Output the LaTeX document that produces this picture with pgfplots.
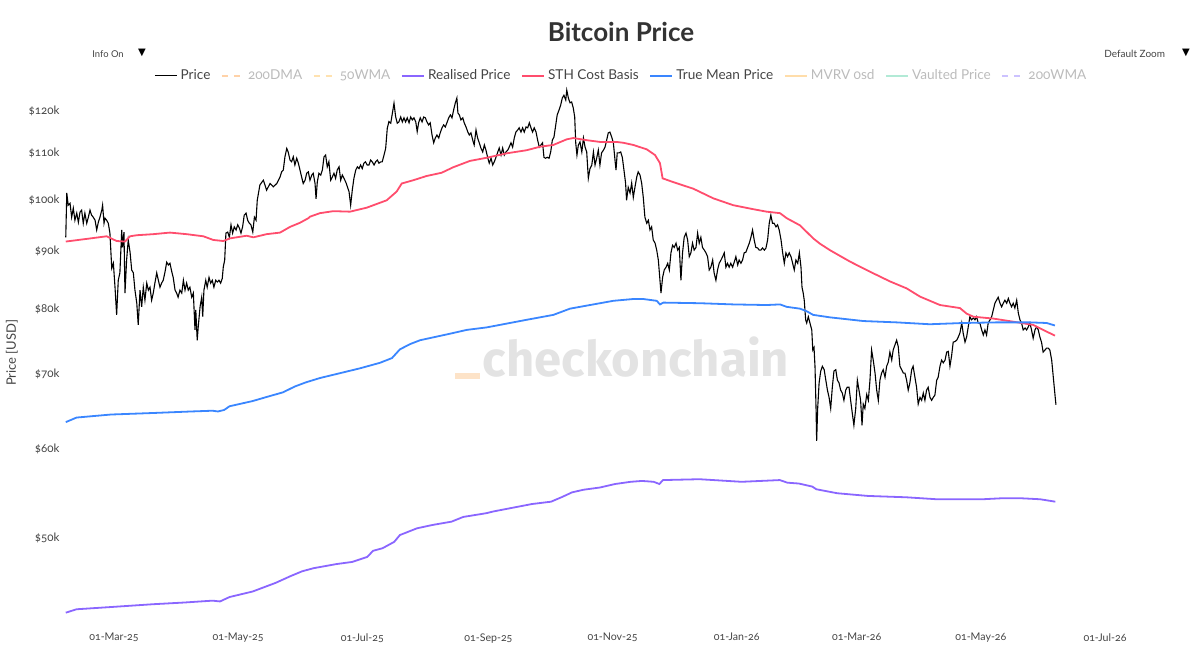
\documentclass[border=0pt]{standalone}
\usepackage{fontspec}
\setmainfont{Lato}[Numbers=OldStyle]
\newfontfamily\symfont{DejaVu Sans}
\newfontfamily\wmfont{Fira Sans}
\usepackage{pgfplots}
\pgfplotsset{compat=1.18}
\usepackage{pgfplotstable}

\definecolor{rpcol}{HTML}{8A66FF}
\definecolor{sthcol}{HTML}{FF4D6D}
\definecolor{tmpcol}{HTML}{3A86FF}
\definecolor{txtcol}{HTML}{444444}
\definecolor{titlecol}{HTML}{333333}
\definecolor{hidtxt}{HTML}{BBBBBB}
\definecolor{dma200}{HTML}{FFD2A8}
\definecolor{wma50}{HTML}{FFE2B0}
\definecolor{mvrv}{HTML}{FFDDAA}
\definecolor{vault}{HTML}{B2EAD6}
\definecolor{wma200}{HTML}{CCC2FF}
\definecolor{wmgray}{HTML}{E3E3E3}
\definecolor{wmorange}{HTML}{FDE3C8}

% x = days since 2025-01-01, y = price in thousand USD
\pgfplotstableread{
d v
35.3 92.6
35.8 101.4
36.5 98.9
37.4 99.3
38.2 96.5
39.0 98.3
39.8 95.9
40.7 97.3
41.5 95.5
42.3 97.5
43.1 97.9
43.9 95.3
44.7 97.3
45.6 95.3
46.4 96.5
47.2 97.9
48.0 96.9
48.8 96.5
49.7 95.9
50.5 94.0
51.3 95.5
52.1 96.5
53.0 97.9
53.4 98.9
54.1 95.3
54.6 96.3
55.4 95.9
56.2 95.3
57.0 93.4
57.9 86.9
58.7 87.8
59.5 83.6
60.3 79.0
61.1 84.8
61.9 86.1
62.8 94.0
63.2 90.7
63.9 93.6
64.4 82.6
65.2 88.4
66.0 92.1
66.9 89.8
67.7 86.6
68.5 86.1
69.3 83.1
70.2 80.9
70.9 77.4
71.8 83.1
72.6 80.3
73.4 83.6
74.2 81.4
75.1 84.3
75.9 83.1
76.7 83.6
77.5 81.4
78.3 82.6
79.1 84.3
80.0 86.1
80.8 84.8
81.6 83.6
82.4 84.3
83.2 84.8
84.1 86.3
84.9 88.0
85.7 87.5
86.5 87.8
87.4 86.3
88.1 85.3
89.0 83.1
89.8 82.6
90.5 81.9
91.4 83.1
92.3 82.6
93.1 84.8
93.9 83.1
94.7 84.3
95.5 83.1
96.3 83.6
97.2 81.9
98.0 82.6
98.8 76.6
99.2 79.8
99.9 75.0
100.4 77.1
101.3 80.3
102.1 81.9
102.6 78.7
103.2 83.1
104.1 84.8
104.8 83.6
105.7 85.3
106.5 84.3
107.3 84.8
108.1 83.6
109.0 84.8
109.8 84.5
110.6 84.8
111.4 84.3
112.2 85.1
112.7 87.1
113.4 88.4
114.0 93.4
114.9 93.6
115.7 92.6
116.5 95.0
117.3 93.4
118.1 94.6
119.0 94.0
119.8 95.0
120.6 94.4
121.4 93.4
122.2 94.6
123.0 96.9
123.9 97.3
124.7 95.9
125.5 95.3
126.3 95.0
127.2 93.6
128.0 96.5
128.8 95.9
129.4 99.9
130.7 103.1
132.4 104.1
134.0 102.0
135.7 103.4
137.3 102.7
139.0 103.4
140.6 104.8
141.4 105.9
142.2 106.3
143.0 109.2
143.9 111.1
144.6 110.3
145.5 108.5
146.3 108.1
147.1 109.2
147.9 107.4
148.8 108.9
149.6 107.8
150.4 106.3
151.2 104.8
152.0 103.4
152.9 104.1
153.7 105.6
154.5 105.9
155.3 104.1
156.2 105.2
156.9 105.6
157.8 103.4
158.3 100.2
158.9 103.7
159.7 105.6
160.6 105.2
161.4 106.3
162.2 109.2
163.0 109.6
163.8 107.0
164.6 108.1
165.5 104.1
166.3 104.8
167.1 105.6
167.9 104.5
168.7 106.3
169.6 107.0
170.4 104.1
171.2 105.2
172.0 104.5
172.9 103.7
173.7 102.7
174.5 101.7
175.3 98.9
176.1 102.0
176.9 104.5
177.8 106.3
178.6 107.0
179.4 106.6
180.2 107.4
181.0 106.6
181.8 107.8
182.6 108.1
183.4 107.4
184.3 107.4
185.1 108.5
185.9 108.1
186.8 107.4
187.6 108.1
188.4 108.5
189.2 107.8
190.1 108.1
190.8 108.1
191.7 109.6
192.5 111.1
193.3 115.8
194.1 117.4
195.0 117.0
195.8 119.4
196.6 121.9
197.4 118.6
198.2 117.0
199.0 117.3
199.9 118.5
200.7 117.3
201.5 118.3
202.3 117.3
203.1 118.3
204.0 117.1
204.8 118.5
205.6 117.8
206.4 118.3
207.3 117.3
208.0 115.0
208.7 117.1
209.5 118.3
210.4 117.3
211.2 118.5
212.0 118.3
212.8 117.3
213.6 116.6
214.4 117.1
215.3 114.2
216.1 112.4
216.9 113.5
217.7 114.2
218.6 113.5
219.3 114.7
220.2 115.9
221.0 116.6
221.8 116.1
222.6 117.1
223.5 118.3
224.3 119.0
225.1 118.3
225.9 120.2
226.7 121.9
227.5 123.2
228.0 119.5
228.7 119.0
229.5 117.8
230.4 118.3
231.1 117.1
232.0 116.1
232.8 115.0
233.6 114.2
234.4 114.7
235.3 113.0
236.0 111.9
236.9 115.4
237.7 113.5
238.5 112.4
239.3 111.2
240.2 110.3
241.0 111.9
241.8 110.7
242.6 109.1
243.4 107.8
244.3 108.9
245.1 107.4
245.9 108.1
246.7 109.1
247.6 110.3
248.3 111.2
249.2 109.6
250.0 111.2
250.8 109.6
251.6 110.3
252.5 110.7
253.2 111.4
254.1 112.4
254.9 111.4
255.7 113.5
256.5 114.9
257.4 115.4
258.1 115.9
259.0 114.9
259.8 115.9
260.6 114.9
261.5 116.1
262.3 115.9
263.1 117.1
263.9 115.9
264.7 114.9
265.5 115.9
266.4 114.9
267.2 113.0
268.0 111.4
268.8 111.9
269.6 112.4
270.3 109.1
271.1 108.9
271.9 109.1
272.8 108.9
273.6 110.3
274.4 113.0
275.2 113.7
276.1 116.6
276.8 119.0
277.7 120.2
278.5 121.4
279.3 123.2
280.1 123.9
281.0 122.7
281.5 125.2
282.3 123.2
283.1 122.0
283.9 122.2
284.7 120.7
285.4 118.5
285.9 112.4
286.5 109.6
287.2 111.9
288.0 112.6
288.9 110.3
289.7 113.5
290.5 111.4
291.3 110.3
292.1 104.5
292.9 106.6
293.8 107.4
294.6 110.3
295.4 107.4
296.2 108.9
297.0 110.7
297.8 107.4
298.6 110.1
299.5 110.7
300.3 111.4
301.1 113.0
301.9 114.7
302.7 114.9
303.6 113.7
304.4 112.4
305.2 108.5
305.7 106.3
306.3 110.1
307.2 110.1
308.0 110.3
308.8 109.1
309.6 106.3
310.4 103.5
310.9 99.9
311.7 102.6
312.6 101.4
313.4 103.5
314.2 100.5
315.0 102.6
315.9 104.8
316.6 105.9
317.5 105.2
318.3 103.5
319.1 100.5
319.9 96.5
320.8 95.3
321.6 95.9
322.4 94.0
323.2 94.6
324.0 92.1
324.9 91.5
325.7 90.2
326.5 88.4
327.3 84.8
327.8 82.6
328.6 85.3
329.4 86.6
330.3 87.1
331.1 87.8
331.9 86.6
332.7 89.7
333.5 91.1
334.3 90.7
335.2 91.5
336.0 90.2
336.8 90.7
337.6 84.8
338.4 89.7
339.2 92.6
340.1 93.4
340.9 92.1
341.7 89.0
342.5 89.7
343.3 91.5
344.1 90.2
345.0 90.7
345.8 93.4
346.6 91.5
347.4 92.6
348.2 90.7
349.1 90.2
349.9 89.7
350.7 89.0
351.5 86.6
352.3 87.1
353.2 88.4
353.9 86.1
354.8 84.8
355.6 86.6
356.4 87.8
357.3 88.4
358.1 89.0
358.9 89.7
359.7 87.1
360.5 87.8
361.3 87.1
362.1 87.8
363.0 87.1
363.8 88.0
364.6 89.0
365.5 87.5
366.2 88.4
367.1 87.8
367.9 88.4
368.7 89.7
369.5 89.8
370.4 90.7
371.2 91.5
372.0 92.6
372.8 94.0
373.6 92.1
374.4 90.7
375.3 90.6
376.1 90.2
376.9 90.2
377.7 90.6
378.6 90.2
379.4 90.6
380.2 92.1
381.0 95.3
381.8 96.9
382.6 95.3
383.4 95.3
384.3 94.6
385.1 95.0
385.9 94.0
386.8 92.1
387.6 89.7
388.4 87.8
389.2 89.7
390.0 89.0
390.8 89.7
391.7 89.0
392.5 87.8
393.3 86.6
394.1 88.4
395.0 87.8
395.8 89.7
396.6 87.1
397.1 83.6
397.7 82.6
398.2 81.4
398.9 78.2
399.4 77.7
400.2 78.7
401.0 77.7
401.9 76.6
402.4 73.5
403.0 73.9
403.5 71.0
404.0 65.2
404.3 61.0
404.8 65.2
405.5 68.7
406.3 70.4
407.1 71.1
408.0 70.6
408.8 69.1
409.6 67.7
410.4 66.7
411.2 65.2
412.0 68.1
412.8 70.4
413.7 70.6
414.5 69.1
415.3 68.7
416.1 67.7
416.9 67.3
417.7 66.3
418.6 67.7
419.3 68.1
420.2 68.1
421.0 66.3
421.8 64.6
422.6 63.0
423.5 65.2
424.3 69.1
425.1 67.7
425.9 66.3
426.6 63.0
427.2 65.8
428.0 65.2
428.9 67.1
429.7 66.3
430.5 69.1
431.3 73.5
432.1 72.0
433.0 70.1
433.8 67.7
434.6 66.3
435.4 69.1
436.2 70.1
437.0 70.6
437.9 69.5
438.7 71.1
439.5 71.7
440.3 73.2
441.2 72.0
441.9 73.5
442.8 74.3
443.6 75.0
444.4 74.0
445.2 71.1
446.1 70.6
446.9 70.1
447.7 70.1
448.5 69.1
449.3 67.7
450.1 68.7
451.0 70.6
451.7 71.1
452.6 69.5
453.4 68.1
454.2 65.8
455.1 66.7
455.9 66.3
456.7 67.3
457.5 66.3
458.3 67.7
459.1 68.1
460.0 66.7
460.8 66.3
461.6 66.7
462.4 67.0
463.3 69.1
464.0 69.5
464.9 71.1
465.7 72.0
466.5 71.6
467.4 72.0
468.2 73.2
469.0 73.3
469.8 71.1
470.6 72.6
471.4 74.7
472.3 74.8
473.1 75.0
473.9 75.5
474.7 76.1
475.6 77.7
476.3 76.1
477.2 74.7
478.0 75.5
478.8 77.1
479.6 78.7
480.4 78.2
481.3 78.5
482.1 78.2
482.9 78.7
483.7 77.7
484.5 77.7
485.4 76.6
486.2 75.8
487.0 76.6
487.8 75.8
488.6 77.7
489.5 78.2
490.3 78.7
491.1 79.8
491.9 80.9
492.7 81.4
493.5 81.9
494.4 80.9
495.2 80.3
496.0 80.9
496.8 81.4
497.7 80.9
498.5 81.7
499.3 80.9
500.1 80.3
500.9 80.9
501.7 80.1
502.6 81.4
503.4 79.3
504.2 78.2
505.0 77.7
505.8 76.6
506.7 76.9
507.5 76.6
508.3 77.1
509.1 77.7
509.9 76.6
510.7 75.3
511.6 76.6
512.4 77.1
513.2 76.6
514.0 75.5
514.8 74.7
515.6 73.2
516.5 73.5
517.3 73.8
518.1 73.8
518.9 73.5
519.8 72.0
520.6 69.5
521.4 67.1
521.9 65.7
}\pricetab

\pgfplotstableread{
d v
35.3 91.8
45.6 92.3
55.4 92.8
57.0 92.5
60.3 91.9
64.4 91.8
66.9 92.8
70.2 93.0
78.3 93.2
86.5 93.5
94.7 93.2
102.9 92.8
107.8 92.1
112.7 91.9
116.0 92.4
124.2 92.9
127.5 92.6
134.0 93.2
140.6 93.5
145.5 94.6
150.4 95.4
154.5 96.3
155.3 96.6
160.2 97.3
166.8 97.7
175.0 97.6
183.2 98.4
193.0 99.9
197.9 101.7
200.4 103.4
206.1 104.1
212.6 105.0
220.0 105.7
225.7 106.9
233.9 108.3
242.1 109.0
252.0 110.0
261.8 110.7
268.4 111.5
274.9 111.9
281.5 113.2
284.7 113.5
291.3 113.0
297.8 112.6
306.0 112.6
309.3 112.4
314.2 111.9
320.8 110.9
324.9 109.6
327.3 107.8
328.6 104.5
333.8 103.7
343.7 102.3
353.5 100.3
363.3 98.9
373.1 98.1
379.7 97.6
386.3 97.3
389.6 96.3
396.1 94.9
402.6 92.4
405.9 91.4
410.8 90.2
420.7 88.1
430.5 86.3
440.3 84.6
448.5 83.4
455.1 82.0
464.9 80.6
474.7 80.1
478.0 79.2
481.3 78.7
491.1 78.4
500.9 77.9
510.7 77.4
515.6 76.6
521.4 75.7
}\sthtab

\pgfplotstableread{
d v
35.3 63.4
40.6 64.0
57.5 64.4
78.2 64.6
97.0 64.8
107.4 64.9
110.1 64.8
113.1 65.0
115.8 65.5
127.1 66.2
134.6 66.8
142.1 67.4
147.8 68.2
153.4 68.8
160.2 69.4
170.1 70.1
179.9 70.8
189.7 71.6
195.6 72.3
199.5 73.6
204.5 74.4
209.4 75.0
224.1 76.0
232.3 76.6
242.1 77.0
248.7 77.4
261.8 78.2
274.9 79.0
283.1 80.0
291.3 80.5
304.4 81.3
314.2 81.6
319.1 81.6
325.7 81.3
327.3 80.7
329.0 81.0
347.0 80.9
363.3 80.7
379.7 80.6
386.3 80.7
389.6 80.3
396.1 80.0
399.4 79.6
402.6 79.0
410.8 78.6
427.2 78.0
443.6 77.8
459.9 77.5
476.3 77.7
492.7 77.8
509.1 77.8
517.3 77.7
521.4 77.3
}\tmptab

\pgfplotstableread{
d v
35.3 42.9
40.6 43.2
57.5 43.4
78.2 43.65
93.3 43.8
107.4 43.97
111.1 43.9
115.8 44.3
127.1 44.8
138.4 45.6
145.9 46.25
151.5 46.7
157.2 47.0
168.5 47.4
176.0 47.6
183.5 48.1
186.3 48.7
191.0 48.96
196.7 49.6
199.5 50.3
207.9 51.0
215.5 51.35
224.9 51.7
230.6 52.2
241.8 52.6
245.6 52.8
264.4 53.6
273.8 53.86
279.4 54.4
284.1 54.9
289.8 55.2
297.8 55.45
305.3 55.85
312.9 56.1
318.5 56.2
324.2 56.1
327.0 55.85
328.8 56.3
346.7 56.4
367.4 56.1
386.2 56.3
389.9 56.0
395.6 55.9
402.2 55.55
404.1 55.25
414.4 54.8
429.5 54.5
448.3 54.35
463.3 54.13
485.9 54.13
495.3 54.24
504.7 54.24
514.1 54.13
521.6 53.86
}\rptab

\begin{document}
\begin{tikzpicture}
\path[use as bounding box] (0pt,0pt) rectangle (600pt,335pt);
% watermark
\fill[wmorange] (227.5pt,145.5pt) rectangle (240pt,148.5pt);
\node[font=\wmfont\bfseries\fontsize{24.5}{25}\selectfont, text=wmgray, anchor=center] at (318pt,156.5pt) {checkonchain};
% title and menus
\node[font=\bfseries\fontsize{13}{14}\selectfont, text=titlecol] at (310.5pt,319pt) {Bitcoin Price};
\node[font=\fontsize{4.7}{5}\selectfont, text=txtcol, anchor=west, inner sep=0pt] at (46pt,308pt) {Info On};
\node[font=\symfont\fontsize{5}{5}\selectfont, text=black, inner sep=0pt] at (71pt,308.3pt) {▼};
\node[font=\fontsize{5}{5}\selectfont, text=txtcol, anchor=west, inner sep=0pt] at (552pt,308pt) {Default Zoom};
\node[font=\symfont\fontsize{5}{5}\selectfont, text=black, inner sep=0pt] at (593pt,308.3pt) {▼};
\begin{axis}[
  at={(31.5pt,24pt)}, anchor=south west,
  scale only axis, width=538.5pt, height=269pt,
  xmin=33.94, xmax=563.2,
  ymode=log, ymin=42.09, ymax=126.8,
  axis line style={draw=none},
  tick style={draw=none},
  /pgf/number format/assume math mode=true,
  xtick={59,120,181,243,304,365,424,485,546},
  xticklabels={01-Mar-25,01-May-25,01-Jul-25,01-Sep-25,01-Nov-25,01-Jan-26,01-Mar-26,01-May-26,01-Jul-26},
  ytick={50,60,70,80,90,100,110,120},
  yticklabels={\$50k,\$60k,\$70k,\$80k,\$90k,\$100k,\$110k,\$120k},
  yticklabel style={anchor=east, inner sep=0pt, xshift=-1.5pt, font=\fontsize{5.8}{6}\selectfont, text=txtcol},
  xticklabel style={anchor=north, inner sep=0pt, yshift=-5.5pt, font=\fontsize{5.3}{6}\selectfont, text=txtcol},
  ylabel={Price [USD]},
  ylabel style={at={(axis description cs:-0.0474,0.5)}, anchor=center, font=\fontsize{6.5}{7}\selectfont, text=txtcol},
  legend image code/.code={\draw[#1] (0pt,0pt) -- (11pt,0pt);},
  legend style={at={(axis description cs:0.519,1.0155)}, anchor=center,
    draw=none, fill=none, font=\fontsize{6.8}{7}\selectfont, text=txtcol,
    legend columns=-1, inner sep=0pt,
    nodes={inner sep=1.6pt},
    /tikz/every even column/.append style={column sep=3.7pt}},
]
\addplot[black, line width=0.55pt] table[x=d,y=v] {\pricetab};
\addlegendentry{Price}
\addlegendimage{dma200, line width=0.9pt, dash pattern=on 3pt off 3pt}
\addlegendentry{\textcolor{hidtxt}{200DMA}}
\addlegendimage{wma50, line width=0.9pt, dash pattern=on 3pt off 3pt}
\addlegendentry{\textcolor{hidtxt}{50WMA}}
\addplot[rpcol, line width=0.9pt] table[x=d,y=v] {\rptab};
\addlegendentry{Realised Price}
\addplot[sthcol, line width=0.9pt] table[x=d,y=v] {\sthtab};
\addlegendentry{STH Cost Basis}
\addplot[tmpcol, line width=0.9pt] table[x=d,y=v] {\tmptab};
\addlegendentry{True Mean Price}
\addlegendimage{mvrv, line width=0.9pt}
\addlegendentry{\textcolor{hidtxt}{MVRV 0sd}}
\addlegendimage{vault, line width=0.9pt}
\addlegendentry{\textcolor{hidtxt}{Vaulted Price}}
\addlegendimage{wma200, line width=0.9pt, dash pattern=on 3pt off 3pt}
\addlegendentry{\textcolor{hidtxt}{200WMA}}
\end{axis}
\end{tikzpicture}
\end{document}
